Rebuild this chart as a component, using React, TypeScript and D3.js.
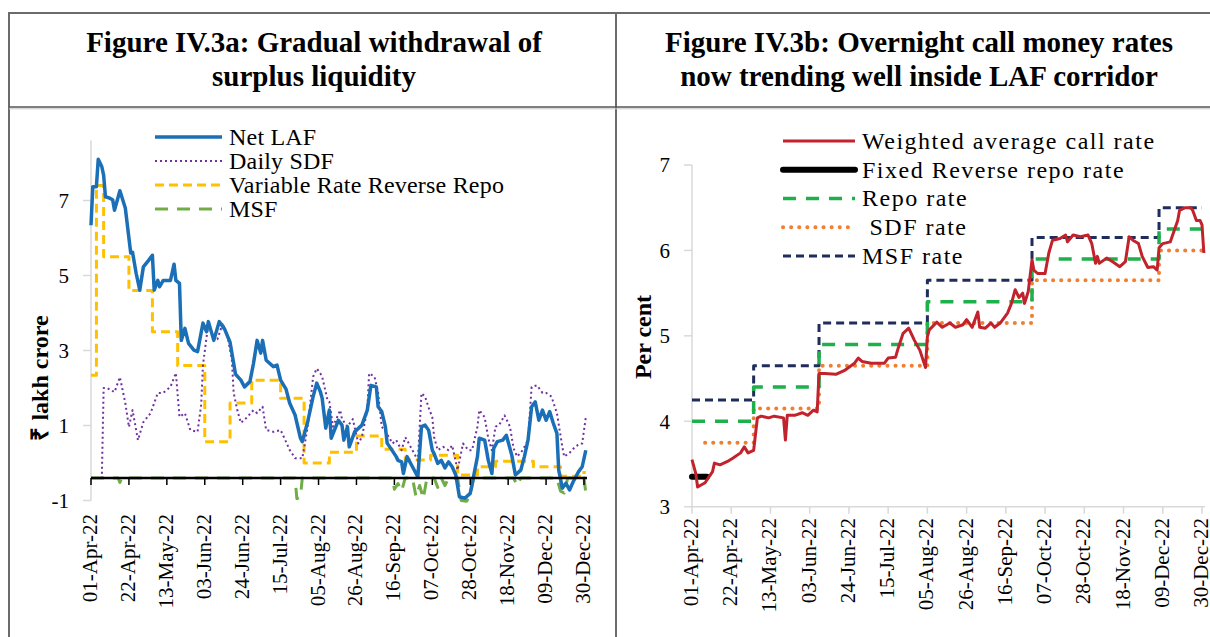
import * as d3 from "d3";

// every x value below is a day count from 01-Apr-22
const START = new Date(2022, 3, 1);
const END = new Date(2022, 11, 30);

const tickDays = [0, 21, 42, 63, 84, 105, 126, 147, 168, 189, 210, 231, 252, 273];
const tickLabels = [
  "01-Apr-22", "22-Apr-22", "13-May-22", "03-Jun-22", "24-Jun-22", "15-Jul-22", "05-Aug-22",
  "26-Aug-22", "16-Sep-22", "07-Oct-22", "28-Oct-22", "18-Nov-22", "09-Dec-22", "30-Dec-22",
];

// ---- Figure IV.3a (₹ lakh crore)
const leftYTicks = [-0.6, 1.4, 3.4, 5.4, 7.4];
const leftYLabels = ["-1", "1", "3", "5", "7"];

const netLaf: [number, number][] = [
  [0, 6.74], [1, 7.77], [3, 7.77], [4, 8.5], [6, 8.3], [7, 8.07], [8, 7.5], [10, 7.47], [12, 7.42],
  [13, 7.14], [16, 7.66], [19, 7.2], [22, 6.0], [23, 6.02], [25, 5.46], [27, 5.01], [29, 5.63],
  [32, 5.81], [34, 5.94], [35, 5.01], [37, 5.27], [38, 5.1], [40, 5.27], [44, 5.27], [46, 5.7],
  [47, 5.27], [49, 5.19], [50, 3.67], [52, 3.99], [54, 3.59], [57, 3.41], [59, 3.37], [62, 4.13],
  [64, 3.9], [65, 4.17], [68, 3.67], [71, 4.17], [74, 3.97], [77, 3.62], [79, 3.06], [80, 2.77],
  [83, 2.61], [85, 2.43], [88, 2.57], [90, 3.06], [92, 3.67], [94, 3.33], [95, 3.67], [97, 3.14],
  [101, 2.97], [103, 3.01], [105, 2.61], [108, 2.37], [110, 2.0], [113, 1.68], [116, 1.06],
  [117, 0.97], [120, 1.5], [123, 2.17], [125, 2.53], [127, 2.3], [128, 2.13], [130, 1.33],
  [132, 1.81], [133, 1.06], [137, 1.54], [139, 1.41], [140, 1.01], [142, 1.37], [143, 0.83],
  [146, 1.23], [150, 1.41], [153, 1.81], [155, 2.47], [158, 2.43], [159, 1.9], [161, 1.77],
  [163, 1.37], [164, 0.93], [166, 0.79], [169, 0.57], [170, 0.47], [172, 0.43], [173, 0.12],
  [175, 0.57], [178, 0.3], [181, 0.03], [183, 1.37], [185, 1.41], [187, 1.27], [189, 0.74],
  [190, 0.65], [192, 0.39], [194, 0.47], [196, 0.27], [198, 0.43], [200, 0.3], [202, 0.08],
  [204, -0.5], [207, -0.54], [210, -0.41], [212, 0.08], [214, 0.57], [215, 1.06], [218, 1.01],
  [220, 0.47], [222, 0.12], [223, 0.79], [225, 0.97], [228, 1.01], [230, 1.14], [233, 0.61],
  [235, 0.08], [238, 0.21], [240, 0.57], [242, 1.01], [244, 1.9], [246, 2.03], [248, 1.54],
  [250, 1.81], [252, 1.54], [254, 1.77], [256, 1.46], [258, 1.19], [259, 0.21], [261, -0.27],
  [263, -0.14], [265, -0.32], [267, -0.1], [270, 0.17], [272, 0.3], [274, 0.74],
];

const dailySdf: [number, number][] = [
  [0, 0], [6, 0], [7, 2.4], [9, 2.4], [13, 2.29], [16, 2.69], [19, 2.0], [21, 1.36], [23, 1.81],
  [26, 1.01], [29, 1.49], [33, 1.73], [37, 2.27], [40, 2.27], [44, 2.43], [47, 2.8], [49, 1.63],
  [52, 1.73], [55, 1.28], [59, 1.23], [61, 1.95], [62, 3.01], [65, 4.13], [68, 3.68], [70, 3.7],
  [73, 4.13], [76, 3.68], [78, 3.15], [79, 2.27], [81, 1.81], [83, 1.47], [86, 1.6], [90, 1.81],
  [92, 1.73], [95, 1.9], [97, 1.28], [101, 1.23], [105, 1.28], [107, 1.07], [110, 0.75],
  [113, 0.53], [116, 0.53], [117, 0.52], [120, 1.37], [123, 2.7], [125, 2.92], [127, 2.79],
  [128, 2.7], [131, 2.07], [132, 2.03], [134, 1.37], [138, 1.81], [139, 1.57], [142, 1.37],
  [145, 1.57], [148, 0.92], [150, 1.09], [153, 1.81], [154, 2.79], [157, 2.7], [159, 2.27],
  [161, 1.37], [164, 1.17], [167, 0.92], [169, 1.01], [172, 0.74], [174, 1.09], [175, 1.01],
  [178, 0.74], [181, 0.47], [183, 2.26], [185, 2.17], [187, 1.87], [189, 1.62], [190, 1.09],
  [192, 0.74], [195, 0.83], [198, 0.74], [200, 0.87], [201, 0.65], [203, 0.21], [206, 0.92],
  [209, 0.74], [211, 0.74], [214, 1.37], [215, 1.81], [218, 1.62], [220, 1.06], [222, 0.74],
  [224, 1.37], [226, 1.41], [229, 1.67], [232, 1.37], [234, 0.79], [236, 0.57], [239, 0.74],
  [242, 1.01], [244, 2.43], [247, 2.47], [250, 2.27], [252, 2.27], [255, 2.17], [258, 1.73],
  [261, 0.83], [262, 0.57], [265, 0.67], [268, 0.83], [271, 0.92], [272, 0.92], [274, 1.62],
];

const vrrr: [number, number][] = [
  [0, 2.74], [3, 7.8], [7, 5.9], [21, 5.0], [34, 3.9], [48, 3.0], [63, 0.97], [77, 2.0], [89, 2.61],
  [105, 2.13], [118, 0.4], [132, 0.69], [147, 1.12], [161, 0.77], [174, 0.48], [188, 0.61],
  [203, 0.08], [214, 0.3], [224, 0.45], [245, 0.3], [260, 0.05], [272, 0.15], [274, 0.15],
];

const msf: [number, number][] = [
  [0, 0], [15, 0], [16, -0.12], [17, 0], [113, 0], [114, -0.55], [116, -0.5], [117, 0], [167, 0],
  [168, -0.3], [170, -0.15], [172, -0.35], [174, 0], [178, 0], [180, -0.5], [182, -0.2],
  [184, -0.55], [186, 0], [190, 0], [192, -0.25], [194, 0], [196, -0.2], [198, 0], [203, 0],
  [205, -0.6], [208, -0.62], [210, -0.45], [212, 0], [234, 0], [236, -0.2], [238, 0], [258, 0],
  [260, -0.35], [262, -0.4], [264, 0], [273, 0], [274, -0.4],
];

// ---- Figure IV.3b (per cent)
const rightYTicks = [3, 4, 5, 6, 7];

const wacr: [number, number][] = [
  [0, 3.55], [2, 3.39], [3, 3.23], [7, 3.28], [11, 3.41], [12, 3.51], [15, 3.49], [19, 3.53],
  [22, 3.57], [26, 3.63], [28, 3.7], [30, 3.63], [33, 3.66], [35, 4.04], [37, 4.06], [41, 4.04],
  [44, 4.06], [49, 4.04], [50, 3.78], [51, 4.07], [55, 4.07], [59, 4.1], [62, 4.07], [65, 4.13],
  [67, 4.11], [68, 4.56], [71, 4.56], [77, 4.55], [82, 4.6], [87, 4.68], [89, 4.74], [91, 4.7],
  [96, 4.68], [103, 4.68], [105, 4.74], [109, 4.75], [110, 4.83], [113, 5.03], [116, 5.09],
  [119, 4.95], [122, 4.83], [125, 4.63], [126, 4.99], [127, 5.07], [131, 5.16], [134, 5.1],
  [138, 5.15], [141, 5.1], [145, 5.13], [147, 5.19], [150, 5.1], [153, 5.28], [154, 5.1],
  [157, 5.09], [160, 5.15], [162, 5.1], [165, 5.15], [169, 5.27], [171, 5.38], [173, 5.54],
  [175, 5.45], [177, 5.5], [178, 5.38], [180, 5.52], [182, 5.89], [183, 5.77], [185, 5.73],
  [189, 5.73], [191, 5.97], [193, 6.12], [197, 6.14], [200, 6.18], [201, 6.1], [204, 6.18],
  [208, 6.16], [212, 6.18], [214, 6.08], [216, 5.85], [217, 5.93], [218, 5.85], [222, 5.91],
  [225, 5.87], [229, 5.81], [232, 5.87], [234, 6.16], [236, 6.12], [239, 6.08], [241, 5.93],
  [244, 5.8], [247, 5.81], [249, 5.77], [250, 6.03], [252, 6.08], [256, 6.1], [260, 6.35],
  [261, 6.47], [264, 6.5], [267, 6.5], [268, 6.47], [270, 6.35], [272, 6.35], [273, 6.3],
  [274, 5.97],
];
const fixedRrr: [number, number][] = [[0, 3.35], [8, 3.35]];
const repoRate: [number, number][] = [[0, 4.0], [33, 4.4], [68, 4.9], [126, 5.4], [182, 5.9], [250, 6.25], [273, 6.25]];
const sdfRate: [number, number][] = [[7, 3.75], [33, 4.15], [68, 4.65], [126, 5.15], [182, 5.65], [250, 6.0], [273, 6.0]];
const msfRate: [number, number][] = [[0, 4.25], [33, 4.65], [68, 5.15], [126, 5.65], [182, 6.15], [250, 6.5], [273, 6.5]];

const SERIF = "'Liberation Serif', 'Times New Roman', serif";
const day = (d: number) => d3.timeDay.offset(START, d);

type Style = { color: string; width: number; dash?: string; cap?: "round" | "butt" };
type Series = { name: string; data: [number, number][]; style: Style; step?: boolean };

const leftSeries: Series[] = [
  { name: "MSF", data: msf, style: { color: "#70AD47", width: 3, dash: "13 9" } },
  { name: "Variable Rate Reverse Repo", data: vrrr, style: { color: "#FFC000", width: 3, dash: "9 5" }, step: true },
  { name: "Daily SDF", data: dailySdf, style: { color: "#7030A0", width: 2, dash: "2 3" } },
  { name: "Net LAF", data: netLaf, style: { color: "#1B6FB6", width: 3.5 } },
];
const leftLegend = ["Net LAF", "Daily SDF", "Variable Rate Reverse Repo", "MSF"];

const rightSeries: Series[] = [
  { name: "MSF rate", data: msfRate, style: { color: "#1F2D5C", width: 3, dash: "8 5" }, step: true },
  { name: " SDF rate", data: sdfRate, style: { color: "#F0802F", width: 4, dash: "0.1 8", cap: "round" }, step: true },
  { name: "Repo rate", data: repoRate, style: { color: "#1DB04B", width: 3.5, dash: "13 10" }, step: true },
  { name: "Fixed Reverse repo rate", data: fixedRrr, style: { color: "#000000", width: 6, cap: "round" } },
  { name: "Weighted average call rate", data: wacr, style: { color: "#C2222B", width: 3 } },
];
const rightLegend = ["Weighted average call rate", "Fixed Reverse repo rate", "Repo rate", " SDF rate", "MSF rate"];

function Panel({
  x0, x1, yDomain, yTop, yBottom, yTicks, yLabels, series, legend, legendX, legendY, legendGap,
  legendLen, legendSpacing, axisValue, axisColor, labelTop, yTitle, yTitleX, yTitleY,
}: {
  x0: number; x1: number; yDomain: [number, number]; yTop: number; yBottom: number;
  yTicks: number[]; yLabels: string[]; series: Series[]; legend: string[]; legendX: number;
  legendY: number; legendGap: number; legendLen: number; legendSpacing: number; axisValue: number;
  axisColor: string; labelTop: number; yTitle: string; yTitleX: number; yTitleY: number;
}) {
  const x = d3.scaleTime().domain([START, END]).range([x0, x1]);
  const y = d3.scaleLinear().domain(yDomain).range([yBottom, yTop]);
  const axisY = y(axisValue);
  const byName = new Map(series.map((s) => [s.name, s]));
  return (
    <g>
      {/* value axis */}
      <line x1={x0} x2={x0} y1={yTop} y2={yBottom} stroke="#D9D9D9" strokeWidth={1.5} />
      {yTicks.map((t, i) => (
        <g key={t}>
          <line x1={x0 - 8} x2={x0} y1={y(t)} y2={y(t)} stroke="#D9D9D9" strokeWidth={1.5} />
          <text x={x0 - 22} y={y(t)} dy="0.35em" textAnchor="end" fontSize={21} fontFamily={SERIF}>
            {yLabels[i]}
          </text>
        </g>
      ))}
      <text
        transform={`translate(${yTitleX},${yTitleY}) rotate(-90)`}
        textAnchor="middle"
        dy="0.35em"
        fontSize={24}
        fontWeight="bold"
        fontFamily={SERIF}
      >
        {yTitle}
      </text>
      {/* series */}
      {series.map((s) => {
        const line = d3
          .line<[number, number]>()
          .x((d) => x(day(d[0])))
          .y((d) => y(d[1]))
          .curve(s.step ? d3.curveStepAfter : d3.curveLinear);
        return (
          <path
            key={s.name}
            d={line(s.data) ?? ""}
            fill="none"
            stroke={s.style.color}
            strokeWidth={s.style.width}
            strokeDasharray={s.style.dash}
            strokeLinecap={s.style.cap ?? "butt"}
            strokeLinejoin="round"
          />
        );
      })}
      {/* category axis */}
      <line x1={x0} x2={x1 + 3} y1={axisY} y2={axisY} stroke={axisColor} strokeWidth={axisColor === "#000" ? 2.5 : 1.5} />
      {tickDays.map((d, i) => {
        const tx = x(day(d));
        return (
          <g key={d}>
            <line x1={tx} x2={tx} y1={axisY} y2={axisY + 7} stroke={axisColor} strokeWidth={1.5} />
            <text
              transform={`translate(${tx + 6},${labelTop}) rotate(-90)`}
              textAnchor="end"
              fontSize={21}
              fontFamily={SERIF}
            >
              {tickLabels[i]}
            </text>
          </g>
        );
      })}
      {/* legend */}
      {legend.map((name, i) => {
        const s = byName.get(name)!;
        const ly = legendY + i * legendGap;
        return (
          <g key={name}>
            <line
              x1={legendX}
              x2={legendX + legendLen}
              y1={ly}
              y2={ly}
              stroke={s.style.color}
              strokeWidth={s.style.width}
              strokeDasharray={s.style.dash}
              strokeLinecap={s.style.cap ?? "butt"}
            />
            <text
              x={legendX + legendLen + 7}
              y={ly}
              dy="0.33em"
              fontSize={24}
              letterSpacing={legendSpacing}
              fontFamily={SERIF}
              style={{ whiteSpace: "pre" }}
            >
              {name}
            </text>
          </g>
        );
      })}
    </g>
  );
}

export default function App() {
  const titleStyle = { fontSize: 29, fontWeight: "bold" as const, fontFamily: SERIF };
  return (
    <div style={{ position: "absolute", left: 0, top: 0, width: 1210, height: 637, background: "#fff" }}>
      <svg width={1210} height={637} style={{ display: "block" }}>
        {/* table frame */}
        <line x1={9} x2={1210} y1={13} y2={13} stroke="#6B6B6B" strokeWidth={2} />
        <line x1={9} x2={9} y1={12} y2={637} stroke="#6B6B6B" strokeWidth={2} />
        <line x1={616} x2={616} y1={12} y2={637} stroke="#6B6B6B" strokeWidth={2} />
        <line x1={9} x2={1210} y1={107} y2={107} stroke="#555" strokeWidth={1.5} />
        <line x1={9} x2={1210} y1={108.8} y2={108.8} stroke="#C8C8C8" strokeWidth={1} />

        <text x={314} y={52} textAnchor="middle" {...titleStyle}>Figure IV.3a: Gradual withdrawal of</text>
        <text x={314} y={86} textAnchor="middle" {...titleStyle}>surplus liquidity</text>
        <text x={919} y={52} textAnchor="middle" {...titleStyle}>Figure IV.3b: Overnight call money rates</text>
        <text x={919} y={86} textAnchor="middle" {...titleStyle}>now trending well inside LAF corridor</text>

        <Panel
          x0={91} x1={584} yDomain={[-0.6, 9]} yTop={140.5} yBottom={500.5}
          yTicks={leftYTicks} yLabels={leftYLabels} series={leftSeries}
          legend={leftLegend} legendX={155} legendY={137} legendGap={24} legendLen={67} legendSpacing={0.2}
          axisValue={0} axisColor="#000" labelTop={514}
          yTitle="₹ lakh crore" yTitleX={40} yTitleY={378}
        />
        <Panel
          x0={692} x1={1202} yDomain={[3, 7]} yTop={165} yBottom={506.7}
          yTicks={rightYTicks} yLabels={rightYTicks.map(String)} series={rightSeries}
          legend={rightLegend} legendX={783} legendY={141} legendGap={28.75} legendLen={72} legendSpacing={1.5}
          axisValue={3} axisColor="#D9D9D9" labelTop={518}
          yTitle="Per cent" yTitleX={643} yTitleY={337}
        />
      </svg>
    </div>
  );
}
